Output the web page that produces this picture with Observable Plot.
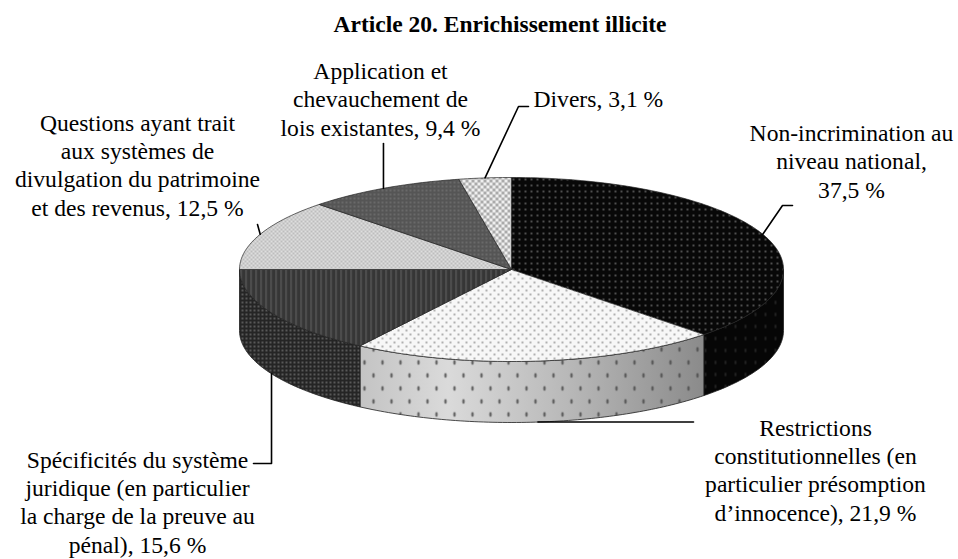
<!DOCTYPE html>
<html>
<head>
<meta charset="utf-8">
<script src="https://cdn.jsdelivr.net/npm/d3@7"></script>
<script src="https://cdn.jsdelivr.net/npm/@observablehq/plot@0.6"></script>
<style>
  html, body { margin: 0; padding: 0; background: #fff; }
  #title {
    box-sizing: border-box; width: 958px; height: 44px; padding: 12px 0 0 42px;
    font-family: "Liberation Serif", "Times New Roman", serif; font-weight: bold;
    font-size: 23.5px; line-height: 24px; text-align: center; color: #000;
  }
</style>
</head>
<body>
<div id="title">Article 20. Enrichissement illicite</div>
<div id="chart"></div>
<script>
// ---------- data ----------
const categories = [
  "Non-incrimination au niveau national",
  "Restrictions constitutionnelles (en particulier présomption d’innocence)",
  "Spécificités du système juridique (en particulier la charge de la preuve au pénal)",
  "Questions ayant trait aux systèmes de divulgation du patrimoine et des revenus",
  "Application et chevauchement de lois existantes",
  "Divers"
];
const values = [37.5, 21.9, 15.6, 12.5, 9.4, 3.1];
const labelTexts = [
  "Non-incrimination au\nniveau national,\n37,5 %",
  "Restrictions\nconstitutionnelles (en\nparticulier présomption\nd’innocence), 21,9 %",
  "Spécificités du système\njuridique (en particulier\nla charge de la preuve au\npénal), 15,6 %",
  "Questions ayant trait\naux systèmes de\ndivulgation du patrimoine\net des revenus, 12,5 %",
  "Application et\nchevauchement de\nlois existantes, 9,4 %",
  "Divers, 3,1 %"
];

// ---------- layout (positions and styles) ----------
const W = 958, H = 559, TOP = 44;
const cx = 511, cy = 269, rx = 272, ry = 92, depth = 61;
const topFills = ["url(#pBlack)", "url(#pLightDots)", "url(#pStripes)", "url(#pCheckLight)", "url(#pDarkDots)", "url(#pDivers)"];
const sideFills = ["url(#pBlackSide)", "url(#gRestr)", "url(#pCross)", "#888", "#555", "#ccc"];
// label anchor (x, last-line baseline y), text anchor, leader start ("top" edge or "bottom" of wall), leader extra points
const labelLayout = [
  {x: 851, y: 197, anchor: "middle", from: "top",    via: [[782, 205], [792, 205]]},
  {x: 815, y: 520, anchor: "middle", from: "bottom", via: [[693, null]]},
  {x: 137, y: 552, anchor: "middle", from: "bottom", via: [[null, 463], [253, 463]]},
  {x: 137, y: 215, anchor: "middle", from: "top",    via: [[257, 224]]},
  {x: 380, y: 135, anchor: "middle", from: "top",    via: [[null, 143]]},
  {x: 533, y: 106, anchor: "start",  from: "top",    via: [[518, 106], [528, 106]]}
];

// ---------- geometry from data ----------
const arcs = d3.pie().sort(null).value(d => d)(values);
const pt = (a, dz = 0) => ({x: cx + rx * Math.sin(a), y: cy - ry * Math.cos(a) + dz});
function arcPts(a0, a1, dz) {
  const n = Math.max(2, Math.ceil(Math.abs(a1 - a0) / (Math.PI / 180)));
  return d3.range(n + 1).map(i => pt(a0 + (a1 - a0) * i / n, dz));
}
const tops = arcs.map((a, i) => {
  const c = {x: cx, y: cy};
  return {fill: topFills[i], points: [c, ...arcPts(a.startAngle, a.endAngle, 0), c]};
});
const sides = [];
arcs.forEach((a, i) => {
  const b0 = Math.max(a.startAngle, Math.PI / 2), b1 = Math.min(a.endAngle, 3 * Math.PI / 2);
  if (b0 < b1) {
    const up = arcPts(b0, b1, 0), down = arcPts(b1, b0, depth);
    sides.push({i, fill: sideFills[i], points: [...up, ...down, up[0]]});
  }
});
const leaders = arcs.map((a, i) => {
  const L = labelLayout[i];
  const mid = (a.startAngle + a.endAngle) / 2;
  const s = pt(mid, L.from === "bottom" ? depth : 0);
  const pts = [s];
  L.via.forEach(([x, y]) => pts.push({x: x == null ? s.x : x, y: y == null ? s.y : y}));
  return pts;
});
const labels = labelTexts.map((t, i) => ({text: t, x: labelLayout[i].x, y: labelLayout[i].y, anchor: labelLayout[i].anchor}));

// ---------- marks ----------
const font = {fontFamily: "Liberation Serif, Times New Roman, serif", fontSize: 23.6, lineHeight: 1.19, fill: "#000", lineAnchor: "bottom"};
const marks = [];
sides.forEach(s => {
  marks.push(Plot.line(s.points, {x: "x", y: "y", fill: s.fill, stroke: "#1e1e1e", strokeWidth: 0.8, strokeLinejoin: "round"}));
  if (s.i === 1) marks.push(Plot.line(s.points, {x: "x", y: "y", fill: "url(#pSideDots)", stroke: "none"}));
});
tops.forEach(t => marks.push(Plot.line(t.points, {x: "x", y: "y", fill: t.fill, stroke: "#222", strokeWidth: 0.7, strokeLinejoin: "round"})));
leaders.forEach(l => marks.push(Plot.line(l, {x: "x", y: "y", stroke: "#000", strokeWidth: 1.6})));
["middle", "start"].forEach(anchor => {
  marks.push(Plot.text(labels.filter(d => d.anchor === anchor), {x: "x", y: "y", text: "text", textAnchor: anchor, ...font}));
});

const chart = Plot.plot({
  width: W, height: H - TOP, margin: 0,
  x: {domain: [0, W], range: [0, W], axis: null},
  y: {domain: [TOP, H], range: [0, H - TOP], axis: null},
  style: {background: "transparent", fontFamily: "Liberation Serif, serif"},
  marks
});

const defs = `
<linearGradient id="gRestr" gradientUnits="userSpaceOnUse" x1="362" y1="0" x2="705" y2="0">
  <stop offset="0" stop-color="#c4c4c4"/>
  <stop offset="0.25" stop-color="#dadada"/>
  <stop offset="0.6" stop-color="#b8b8b8"/>
  <stop offset="1" stop-color="#8a8a8a"/>
</linearGradient>
<pattern id="pBlack" width="6" height="6" patternUnits="userSpaceOnUse">
  <rect width="6" height="6" fill="#080808"/>
  <circle cx="3" cy="3" r="0.9" fill="#6e6e6e"/>
</pattern>
<pattern id="pBlackSide" width="10" height="12" patternUnits="userSpaceOnUse">
  <rect width="10" height="12" fill="#060606"/>
  <ellipse cx="5" cy="6" rx="0.8" ry="2" fill="#2a2a2a"/>
</pattern>
<pattern id="pLightDots" width="8" height="8" patternUnits="userSpaceOnUse">
  <rect width="8" height="8" fill="#f7f7f7"/>
  <circle cx="2" cy="2" r="0.9" fill="#8e8e8e"/>
  <circle cx="6" cy="6" r="0.9" fill="#8e8e8e"/>
</pattern>
<pattern id="pSideDots" width="18" height="26" patternUnits="userSpaceOnUse">
  <ellipse cx="4" cy="6" rx="1.3" ry="2.4" fill="#4a4a4a" opacity="0.8"/>
  <ellipse cx="13" cy="19" rx="1.3" ry="2.4" fill="#4a4a4a" opacity="0.8"/>
</pattern>
<pattern id="pStripes" width="5" height="4" patternUnits="userSpaceOnUse">
  <rect width="5" height="4" fill="#3a3a3a"/>
  <rect x="0" width="1" height="4" fill="#5e5e5e"/>
  <rect x="3" width="0.6" height="4" fill="#2a2a2a"/>
</pattern>
<pattern id="pCross" width="4" height="4" patternUnits="userSpaceOnUse">
  <rect width="4" height="4" fill="#252525"/>
  <rect x="1" y="1" width="2" height="2" fill="#585858"/>
</pattern>
<pattern id="pCheckLight" width="4" height="4" patternUnits="userSpaceOnUse">
  <rect width="4" height="4" fill="#dedede"/>
  <rect x="0" y="0" width="2" height="2" fill="#bdbdbd"/>
  <rect x="2" y="2" width="2" height="2" fill="#bdbdbd"/>
</pattern>
<pattern id="pDarkDots" width="4" height="4" patternUnits="userSpaceOnUse">
  <rect width="4" height="4" fill="#555"/>
  <circle cx="2" cy="2" r="0.8" fill="#838383"/>
</pattern>
<pattern id="pDivers" width="6" height="6" patternUnits="userSpaceOnUse">
  <rect width="6" height="6" fill="#efefef"/>
  <rect x="0" y="0" width="3" height="3" fill="#aaaaaa"/>
  <rect x="3" y="3" width="3" height="3" fill="#aaaaaa"/>
</pattern>`;
const svgNS = "http://www.w3.org/2000/svg";
const d = document.createElementNS(svgNS, "defs");
d.innerHTML = defs;
chart.insertBefore(d, chart.firstChild);
document.getElementById("chart").appendChild(chart);
</script>
</body>
</html>
